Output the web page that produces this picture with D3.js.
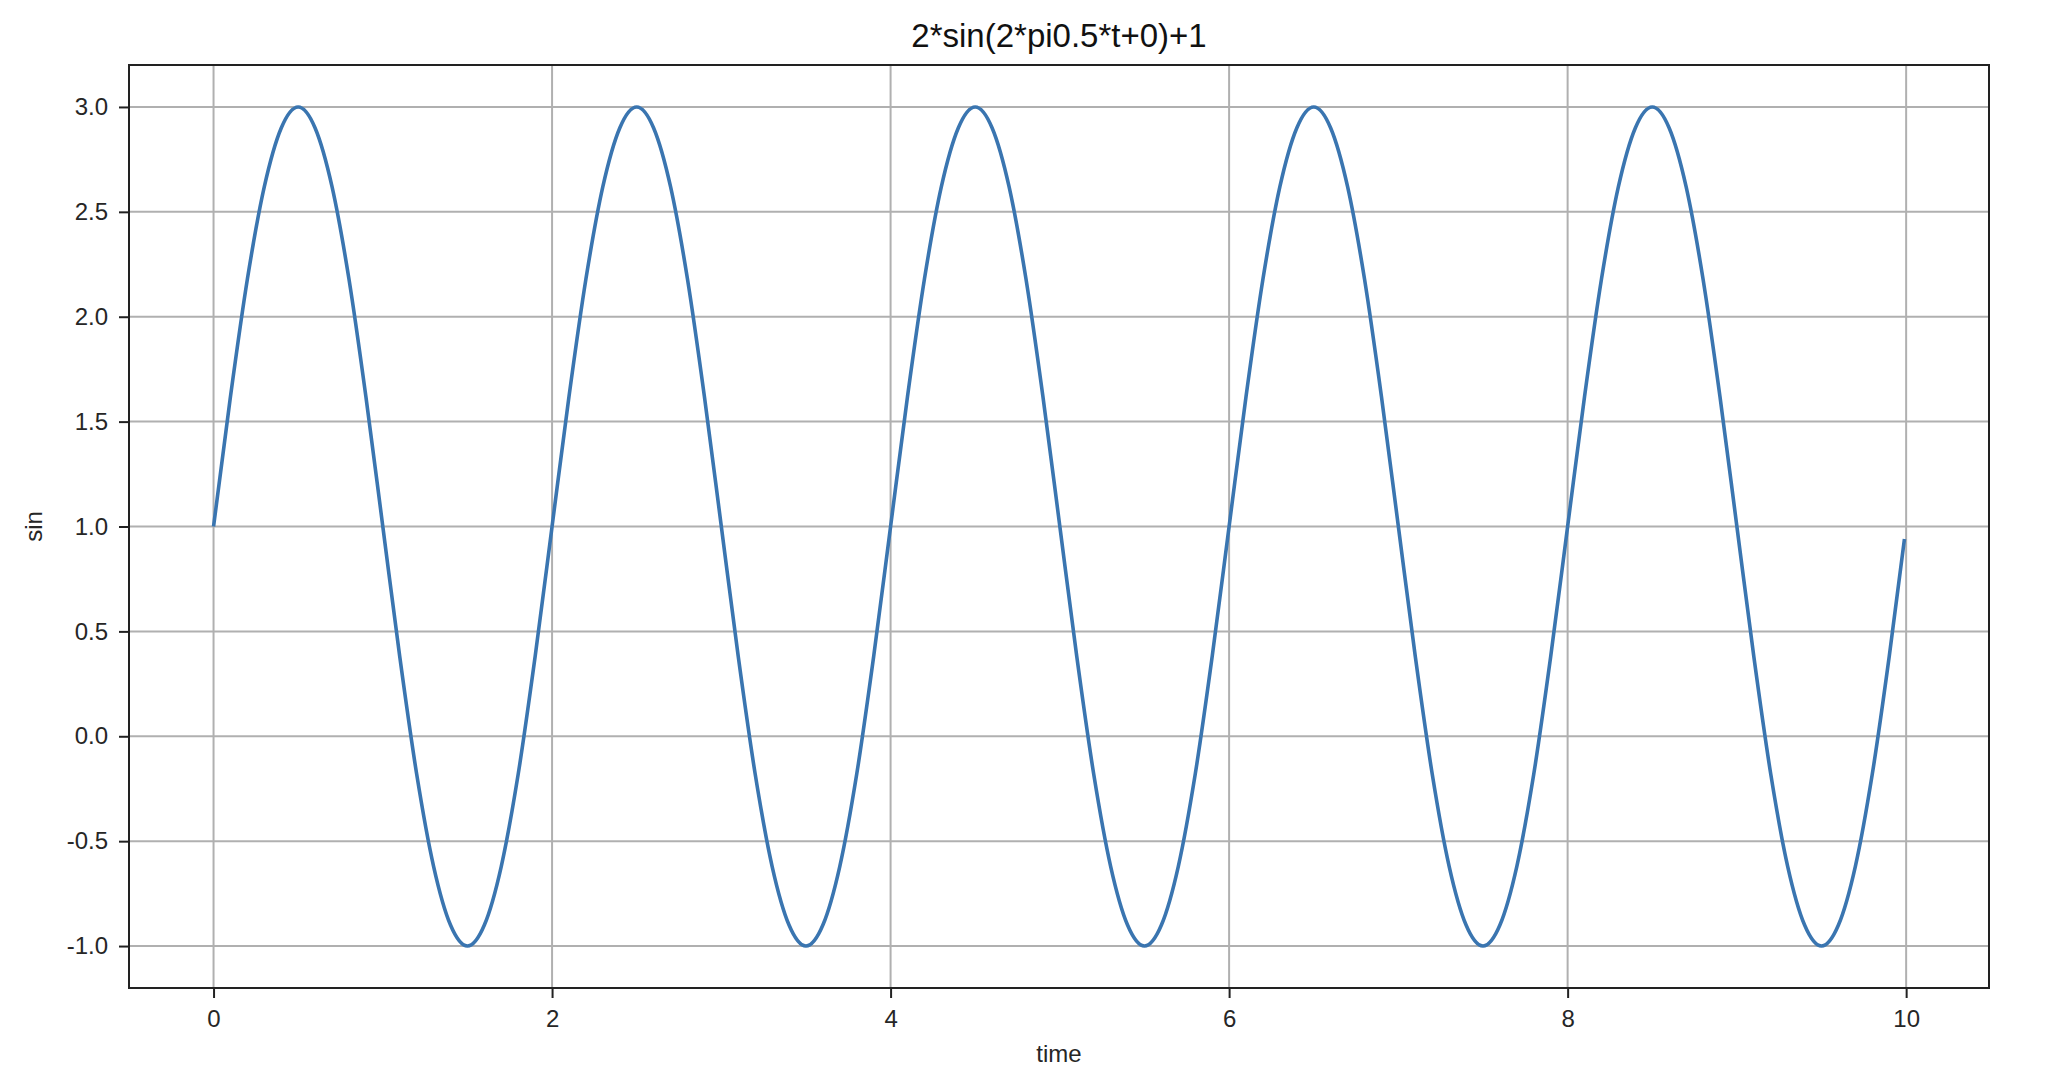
<!DOCTYPE html>
<html>
<head>
<meta charset="utf-8">
<script src="https://cdn.jsdelivr.net/npm/d3@7"></script>
<style>
  html, body { margin: 0; padding: 0; background: #fff; }
  svg { display: block; font-family: "Liberation Sans", Arial, sans-serif; }
</style>
</head>
<body>
<div id="chart"></div>
<script>
const times = [
  0.0, 0.1, 0.2, 0.3, 0.4, 0.5, 0.6, 0.7, 0.8, 0.9,
  1.0, 1.1, 1.2, 1.3, 1.4, 1.5, 1.6, 1.7, 1.8, 1.9,
  2.0, 2.1, 2.2, 2.3, 2.4, 2.5, 2.6, 2.7, 2.8, 2.9,
  3.0, 3.1, 3.2, 3.3, 3.4, 3.5, 3.6, 3.7, 3.8, 3.9,
  4.0, 4.1, 4.2, 4.3, 4.4, 4.5, 4.6, 4.7, 4.8, 4.9,
  5.0, 5.1, 5.2, 5.3, 5.4, 5.5, 5.6, 5.7, 5.8, 5.9,
  6.0, 6.1, 6.2, 6.3, 6.4, 6.5, 6.6, 6.7, 6.8, 6.9,
  7.0, 7.1, 7.2, 7.3, 7.4, 7.5, 7.6, 7.7, 7.8, 7.9,
  8.0, 8.1, 8.2, 8.3, 8.4, 8.5, 8.6, 8.7, 8.8, 8.9,
  9.0, 9.1, 9.2, 9.3, 9.4, 9.5, 9.6, 9.7, 9.8, 9.9,
  9.99
];
const values = [
  1.00, 1.62, 2.18, 2.62, 2.90, 3.00, 2.90, 2.62, 2.18, 1.62,
  1.00, 0.38, -0.18, -0.62, -0.90, -1.00, -0.90, -0.62, -0.18, 0.38,
  1.00, 1.62, 2.18, 2.62, 2.90, 3.00, 2.90, 2.62, 2.18, 1.62,
  1.00, 0.38, -0.18, -0.62, -0.90, -1.00, -0.90, -0.62, -0.18, 0.38,
  1.00, 1.62, 2.18, 2.62, 2.90, 3.00, 2.90, 2.62, 2.18, 1.62,
  1.00, 0.38, -0.18, -0.62, -0.90, -1.00, -0.90, -0.62, -0.18, 0.38,
  1.00, 1.62, 2.18, 2.62, 2.90, 3.00, 2.90, 2.62, 2.18, 1.62,
  1.00, 0.38, -0.18, -0.62, -0.90, -1.00, -0.90, -0.62, -0.18, 0.38,
  1.00, 1.62, 2.18, 2.62, 2.90, 3.00, 2.90, 2.62, 2.18, 1.62,
  1.00, 0.38, -0.18, -0.62, -0.90, -1.00, -0.90, -0.62, -0.18, 0.38,
  0.94
];
const xTicks = [0, 2, 4, 6, 8, 10];
const yTicks = [-1.0, -0.5, 0.0, 0.5, 1.0, 1.5, 2.0, 2.5, 3.0];
const titleText = '2*sin(2*pi0.5*t+0)+1';
const xLabel = 'time';
const yLabel = 'sin';

const width = 2072, height = 1092;
const margin = { top: 65, right: 83, bottom: 104, left: 129 };
const innerW = width - margin.left - margin.right;
const innerH = height - margin.top - margin.bottom;

const svg = d3.select('#chart').append('svg')
  .attr('width', width)
  .attr('height', height);

const g = svg.append('g')
  .attr('transform', `translate(${margin.left},${margin.top})`);

const x = d3.scaleLinear().domain([-0.4995, 10.4895]).range([0, innerW]);
const y = d3.scaleLinear().domain([-1.2, 3.2]).range([innerH, 0]);

// grid
g.append('g').selectAll('line')
  .data(xTicks)
  .enter().append('line')
  .attr('x1', d => x(d)).attr('x2', d => x(d))
  .attr('y1', 0).attr('y2', innerH)
  .attr('stroke', '#b0b0b0')
  .attr('stroke-width', 2);

g.append('g').selectAll('line')
  .data(yTicks)
  .enter().append('line')
  .attr('y1', d => y(d)).attr('y2', d => y(d))
  .attr('x1', 0).attr('x2', innerW)
  .attr('stroke', '#b0b0b0')
  .attr('stroke-width', 2);

// curve
const pts = times.map((t, i) => [t, values[i]]);
const line = d3.line()
  .x(d => x(d[0]))
  .y(d => y(d[1]))
  .curve(d3.curveMonotoneX);

g.append('path')
  .datum(pts)
  .attr('fill', 'none')
  .attr('stroke', '#3a75b0')
  .attr('stroke-width', 3.6)
  .attr('stroke-linejoin', 'round')
  .attr('d', line);

// axes
const xAxis = g.append('g')
  .attr('transform', `translate(0,${innerH})`)
  .call(d3.axisBottom(x).tickValues(xTicks).tickFormat(d3.format('d')).tickSize(10).tickPadding(12));

const yAxis = g.append('g')
  .call(d3.axisLeft(y).tickValues(yTicks).tickFormat(d3.format('.1f')).tickSize(10).tickPadding(11));

[xAxis, yAxis].forEach(a => {
  a.select('.domain').remove();
  a.selectAll('.tick line').attr('stroke', '#222').attr('stroke-width', 2);
  a.selectAll('.tick text')
    .attr('fill', '#262626')
    .style('font-size', '24px')
    .style('font-family', '"Liberation Sans", Arial, sans-serif');
});
// matplotlib uses a hyphen-minus here
yAxis.selectAll('.tick text').text(d => d3.format('.1f')(d).replace('\u2212', '-'));

// frame
g.append('rect')
  .attr('width', innerW)
  .attr('height', innerH)
  .attr('fill', 'none')
  .attr('stroke', '#222')
  .attr('stroke-width', 2);

// title and labels
svg.append('text')
  .attr('x', margin.left + innerW / 2)
  .attr('y', 47)
  .attr('text-anchor', 'middle')
  .attr('fill', '#111')
  .style('font-size', '33px')
  .text(titleText);

svg.append('text')
  .attr('x', margin.left + innerW / 2)
  .attr('y', 1062)
  .attr('text-anchor', 'middle')
  .attr('fill', '#262626')
  .style('font-size', '24px')
  .text(xLabel);

svg.append('text')
  .attr('transform', `translate(42,${margin.top + innerH / 2}) rotate(-90)`)
  .attr('text-anchor', 'middle')
  .attr('fill', '#262626')
  .style('font-size', '24px')
  .text(yLabel);
</script>
</body>
</html>
